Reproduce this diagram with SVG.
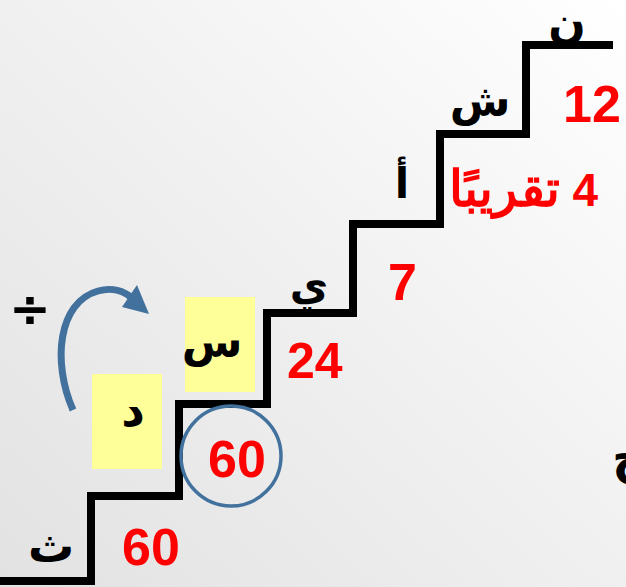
<svg xmlns="http://www.w3.org/2000/svg" width="626" height="587" viewBox="0 0 626 587">
<style>
.num{font-family:"Liberation Sans",Arial,sans-serif;font-weight:bold;fill:#FF0000}
.ar{font-family:"DejaVu Sans","Noto Sans",sans-serif;font-weight:bold;fill:#000;text-anchor:middle}
.box{fill:#FFFF99}
.blue{stroke:#41719C;fill:none}
</style>
<defs>
<linearGradient id="bg" x1="1" y1="0" x2="0" y2="1">
<stop offset="0" stop-color="#ffffff"/>
<stop offset="0.5" stop-color="#f0f0f0"/>
<stop offset="1" stop-color="#e2e2e2"/>
</linearGradient>
</defs>
<rect x="0" y="0" width="626" height="587" fill="url(#bg)"/>

<g id="connectors">
<polyline id="stairs" points="0,581 91,581 91,496 179,496 179,404 267,404 267,313 353,313 353,224 440,224 440,134 526,134 526,45 613,45" fill="none" stroke="#000" stroke-width="8" stroke-linejoin="miter"/>
<path id="arrow" class="blue" stroke-width="7" d="M73,410 C52,362 58,302 98,291 C112,287 124,291 132,298"/>
<polygon fill="#41719C" points="149,314 137,285 122,307"/>
</g>

<g id="node-n"><text class="ar" x="567" y="38" font-size="44">ن</text></g>
<g id="node-12"><text class="num" x="563" y="122" font-size="52">12</text></g>
<g id="node-sh"><text class="ar" x="480" y="116" font-size="44">ش</text></g>
<g id="node-4"><text class="num" x="598" y="206" font-size="46" direction="rtl" text-anchor="start">4 <tspan font-size="50">تقريبًا</tspan></text></g>
<g id="node-alef"><text class="ar" x="402" y="198" font-size="42">أ</text></g>
<g id="node-7"><text class="num" x="388" y="300" font-size="52">7</text></g>
<g id="node-ya"><text class="ar" x="309" y="300" font-size="42">ي</text></g>
<g id="node-24"><text class="num" x="287" y="378" font-size="50">24</text></g>
<g id="node-sin">
<rect class="box" x="185" y="297" width="70" height="95"/>
<text class="ar" x="212" y="357" font-size="44">س</text>
</g>
<g id="node-dal">
<rect class="box" x="92" y="374" width="70" height="95"/>
<text class="ar" x="133" y="426" font-size="46">د</text>
</g>
<g id="node-60a">
<circle class="blue" cx="231" cy="456" r="50" stroke-width="3.5"/>
<text class="num" x="208" y="477" font-size="52">60</text>
</g>
<g id="node-60b"><text class="num" x="122" y="565" font-size="52">60</text></g>
<g id="node-tha"><text class="ar" x="51" y="562" font-size="46">ث</text></g>
<g id="node-div"><text x="30" y="326" font-size="50" font-weight="bold" text-anchor="middle" font-family="DejaVu Sans, sans-serif" fill="#000">÷</text></g>
<g id="node-edge"><text class="ar" x="612" y="473" font-size="48" style="text-anchor:start">خ</text></g>
</svg>
